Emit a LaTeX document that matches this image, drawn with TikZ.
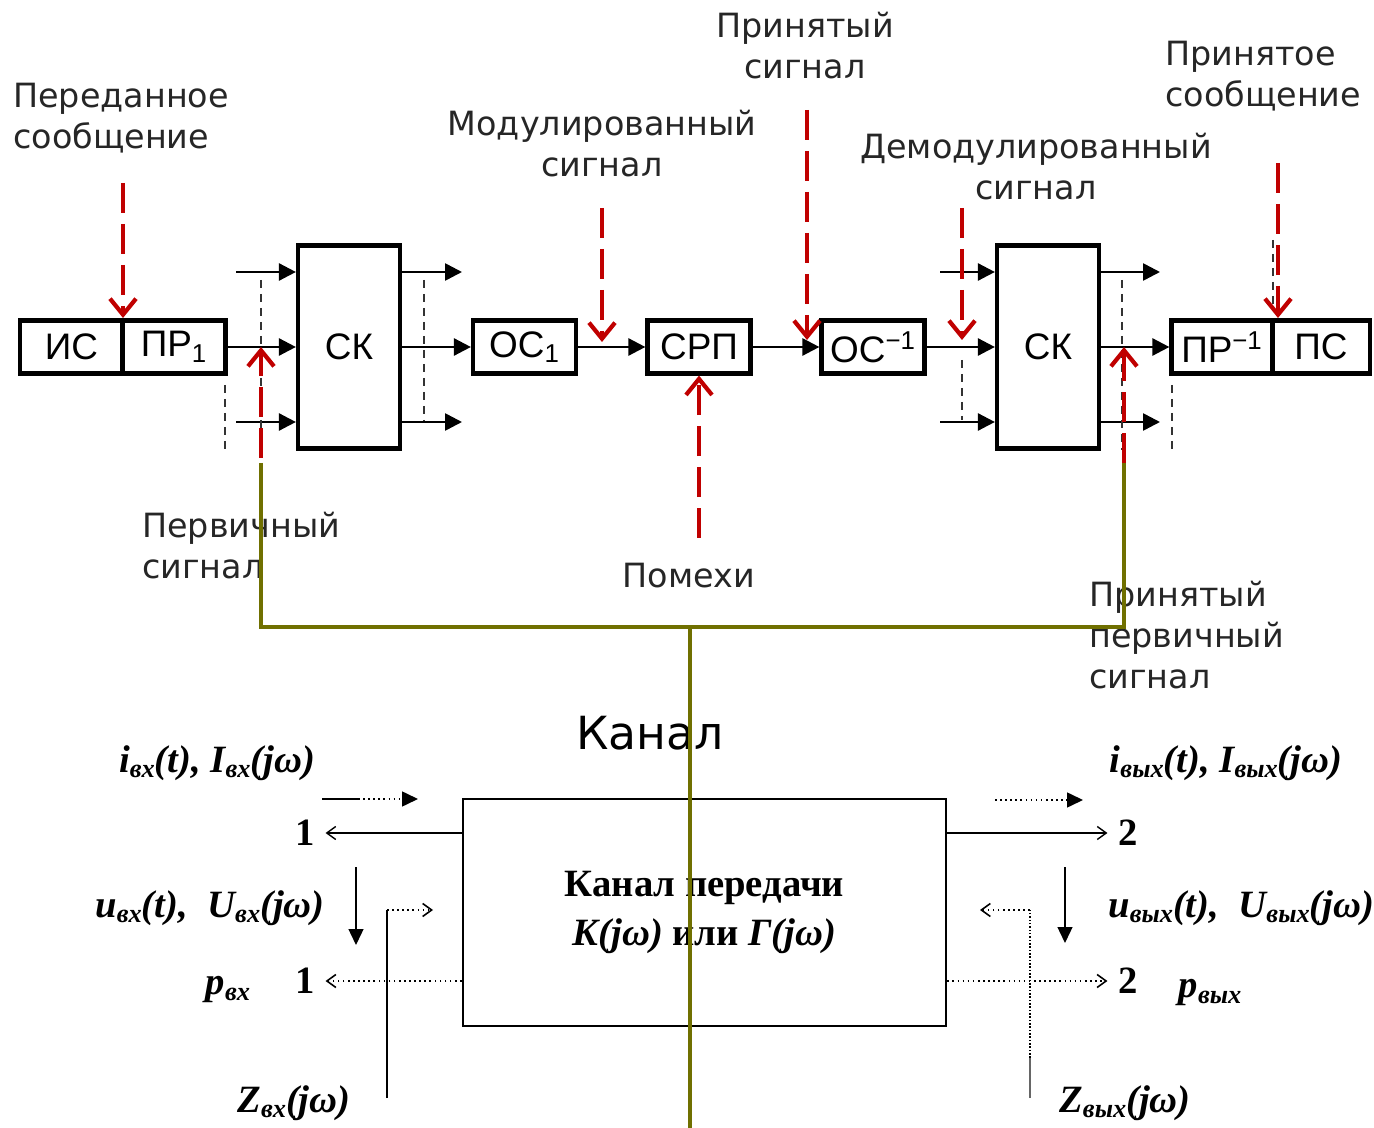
\documentclass[tikz,border=0pt]{standalone}
\usepackage{fontspec}
\setmainfont{DejaVu Sans}
\newfontfamily\blkfont{Liberation Sans}
\newfontfamily\serfont{Liberation Serif}
\usetikzlibrary{arrows.meta}

\definecolor{sigred}{RGB}{192,0,0}
\definecolor{linkolive}{RGB}{112,112,0}
\newcommand\portsub[1]{\raisebox{-0.3ex}{\fontsize{15}{15}\selectfont #1}}

\begin{document}
\begin{tikzpicture}[x=0.02cm, y=-0.02cm,
    blk/.style={rectangle, draw, line width=2.4pt, minimum width=2.06cm, minimum height=1.06cm, inner sep=0pt, font=\blkfont\fontsize{21}{22}\selectfont},
    tallblk/.style={blk, minimum width=2.04cm, minimum height=4.06cm},
    lbl/.style={font=\fontsize{19}{23.3}\selectfont, align=center, inner sep=0pt, text=black!85},
    flow/.style={-{Triangle[length=0.34cm, width=0.34cm]}, line width=1.5pt},
    sigarrow/.style={-{Straight Barb[length=0.32cm, width=0.52cm, line width=2.4pt]}, sigred, line width=2.3pt, dash pattern=on 0.6cm off 0.22cm},
    guide/.style={line width=0.7pt, dash pattern=on 0.16cm off 0.12cm, black!80},
    link/.style={linkolive, line width=2.2pt},
    chanbox/.style={rectangle, draw, line width=1.6pt, minimum width=9.66cm, minimum height=4.54cm, align=center, font=\serfont\bfseries\fontsize{22}{28}\selectfont},
    mlbl/.style={font=\serfont\bfseries\itshape\fontsize{22}{24}\selectfont, inner sep=0pt},
    pnum/.style={font=\serfont\bfseries\fontsize{22}{24}\selectfont, inner xsep=6pt, inner ysep=0pt},
    thinline/.style={line width=0.8pt},
    dotline/.style={line width=0.9pt, dotted},
    openhead/.style={-{Straight Barb[length=0.18cm, width=0.26cm]}},
    fillhead/.style={-{Triangle[length=0.32cm, width=0.3cm]}}
]
    \useasboundingbox (0,0) rectangle (1374,1128);

    % Top chain
    \node[blk] (is) at (71.5,347) {ИС};
    \node[blk] (pr1) at (174,347) {ПР\textsubscript{1}};
    \node[tallblk] (sk1) at (349,347) {СК};
    \node[blk] (os1) at (524.5,347) {ОС\textsubscript{1}};
    \node[blk] (srp) at (699,347) {СРП};
    \node[blk] (osinv) at (873,347) {ОС\textsuperscript{−1}};
    \node[tallblk] (sk2) at (1048,347) {СК};
    \node[blk, minimum width=2.02cm] (prinv) at (1222,347) {ПР\textsuperscript{−1}};
    \node[blk, minimum width=1.96cm] (ps) at (1321,347) {ПС};

    \draw[flow] (pr1) -- (sk1);
    \draw[flow] (sk1) -- (os1);
    \draw[flow] (os1) -- (srp);
    \draw[flow] (srp) -- (osinv);
    \draw[flow] (osinv) -- (sk2);
    \draw[flow] (sk2) -- (prinv);

    % Side channels of the switches
    \foreach \y/\n in {272/a, 422/b} {
        \coordinate (ina\n) at (236,\y);
        \coordinate (inb\n) at (940,\y);
        \draw[flow] (ina\n) -- (ina\n -| sk1.west);
        \draw[flow] (sk1.east |- ina\n) -- (462,\y);
        \draw[flow] (inb\n) -- (inb\n -| sk2.west);
        \draw[flow] (sk2.east |- inb\n) -- (1160,\y);
    }

    % Guide lines
    \foreach \x/\ya/\yb in {225/385/452, 261/280/450, 424/280/420, 962/360/420, 1122/280/450, 1172/385/452, 1273/240/310}
        \draw[guide] (\x,\ya) -- (\x,\yb);

    % Labels
    \node[lbl, align=left, anchor=west] (txmsg) at (13,118) {Переданное\\сообщение};
    \node[lbl] (modsig) at (602,144) {Модулированный\\сигнал};
    \node[lbl] (rxsig) at (805,46) {Принятый\\сигнал};
    \node[lbl] (demsig) at (1036,167) {Демодулированный\\сигнал};
    \node[lbl, align=left, anchor=west] (rxmsg) at (1165,76) {Принятое\\сообщение};
    \node[lbl, align=left, anchor=west] (primsig) at (142,546) {Первичный\\сигнал};
    \node[lbl] (noise) at (689,576) {Помехи};
    \node[lbl, align=left, anchor=west] (rxprim) at (1089,635) {Принятый\\первичный\\сигнал};
    \node[lbl, font=\fontsize{26}{30}\selectfont, text=black] (chanlbl) at (650,733) {Канал};

    % Signal pointers
    \coordinate (pmsg) at (123,183);
    \coordinate (pprim) at (261,458);
    \coordinate (pmod) at (602,208);
    \coordinate (prx) at (807,110);
    \coordinate (pnoise) at (699,538);
    \coordinate (pdem) at (962,208);
    \coordinate (prxprim) at (1124,545);
    \coordinate (prxmsg) at (1278,163);
    \draw[sigarrow] (pmsg) -- (123,318);
    \draw[sigarrow] (pprim) -- (pprim |- pr1);
    \draw[sigarrow] (pmod) -- (602,342);
    \draw[sigarrow] (prx) -- (807,340);
    \draw[sigarrow] (pnoise) -- (srp.south);
    \draw[sigarrow] (pdem) -- (962,340);
    \draw[sigarrow] (prxprim) -- (prxprim |- sk2);
    \draw[sigarrow] (prxmsg) -- (1278,318);

    % Channel model
    \node[chanbox] (chan) at (704.5,912.5) {Канал передачи\\\textit{K(jω)} или \textit{Г(jω)}};
    \node[pnum] (in1) at (305,833) {1};
    \node[pnum] (in2) at (305,981) {1};
    \node[pnum] (out1) at (1128,833) {2};
    \node[pnum] (out2) at (1128,981) {2};
    \draw[thinline, openhead] (chan.west |- in1) -- (in1.east);
    \draw[dotline, openhead] (chan.west |- in2) -- (in2.east);
    \draw[thinline, openhead] (chan.east |- out1) -- (out1.west);
    \draw[dotline, openhead] (chan.east |- out2) -- (out2.west);

    \coordinate (ia) at (322,799);
    \coordinate (ib) at (358,799);
    \coordinate (ic) at (418,799);
    \draw[thinline] (ia) -- (ib);
    \draw[dotline, fillhead] (ib) -- (ic);
    \coordinate (oa) at (995,800);
    \coordinate (oc) at (1083,800);
    \draw[dotline, fillhead] (oa) -- (oc);

    \coordinate (ua) at (356,867);
    \coordinate (ub) at (356,945);
    \draw[thinline, fillhead] (ua) -- (ub);
    \coordinate (va) at (1065,867);
    \coordinate (vb) at (1065,943);
    \draw[thinline, fillhead] (va) -- (vb);

    \coordinate (za) at (387,1098);
    \coordinate (zb) at (387,910);
    \coordinate (zc) at (433,910);
    \draw[thinline] (za) -- (zb);
    \draw[dotline, openhead] (zb) -- (zc);
    \coordinate (zra) at (1030,1098);
    \coordinate (zrm) at (1030,1058);
    \coordinate (zrb) at (1030,910);
    \coordinate (zrc) at (980,910);
    \draw[thinline, black!60] (zra) -- (zrm);
    \draw[line width=0.9pt, densely dotted] (zrm) -- (zrb);
    \draw[dotline, openhead] (zrb) -- (zrc);

    \node[mlbl] (ilbl) at (217,763) {i\portsub{вх}(t), I\portsub{вх}(jω)};
    \node[mlbl] (ulbl) at (210,908) {u\portsub{вх}(t),\enspace U\portsub{вх}(jω)};
    \node[mlbl] (plbl) at (228,990) {p\portsub{вх}};
    \node[mlbl] (zlbl) at (294,1103) {Z\portsub{вх}(jω)};
    \node[mlbl] (iolbl) at (1226,763) {i\portsub{вых}(t), I\portsub{вых}(jω)};
    \node[mlbl, anchor=west] (uolbl) at (1108,908) {u\portsub{вых}(t),\enspace U\portsub{вых}(jω)};
    \node[mlbl] (polbl) at (1210,993) {p\portsub{вых}};
    \node[mlbl] (zolbl) at (1125,1103) {Z\portsub{вых}(jω)};

    % Link between the two views
    \coordinate (lkl) at (261,463);
    \coordinate (lkr) at (1124,463);
    \coordinate (lkm) at (690,627);
    \coordinate (lkb) at (690,1128);
    \draw[link] (lkl) -- ++(0,164) -| (lkr);
    \draw[link] (lkm) -- (lkb);
\end{tikzpicture}
\end{document}
